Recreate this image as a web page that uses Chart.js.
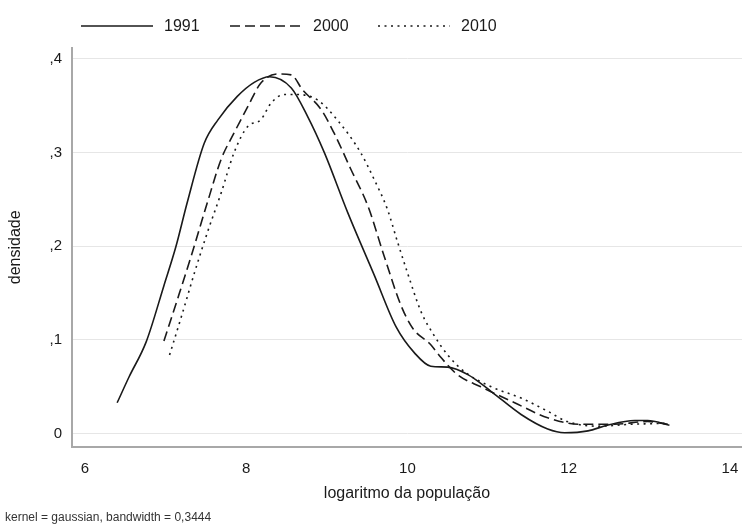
<!DOCTYPE html>
<html>
<head>
<meta charset="utf-8">
<script src="https://cdn.jsdelivr.net/npm/chart.js@4.4.0/dist/chart.umd.min.js"></script>
<style>
  html, body { margin: 0; padding: 0; background: #fff; }
</style>
</head>
<body>
<canvas id="kd" width="742" height="528"></canvas>
<script>
// --- data ---
const seriesNames = ["1991", "2000", "2010"];

const x1991 = [6.40, 6.55, 6.76, 6.98, 7.13, 7.27, 7.48, 7.65, 7.89, 8.10, 8.29, 8.56, 8.76, 8.97, 9.26, 9.59, 9.86, 10.09, 10.29, 10.50, 10.75, 11.04, 11.41, 11.74, 11.95, 12.24, 12.48, 12.82, 12.98, 13.25];
const y1991 = [0.033, 0.061, 0.098, 0.158, 0.200, 0.247, 0.310, 0.335, 0.360, 0.375, 0.381, 0.369, 0.339, 0.300, 0.236, 0.169, 0.114, 0.086, 0.072, 0.071, 0.063, 0.045, 0.0205, 0.005, 0.001, 0.003, 0.009, 0.014, 0.014, 0.009];

const x2000 = [6.98, 7.15, 7.32, 7.52, 7.69, 7.85, 8.02, 8.18, 8.39, 8.56, 8.70, 8.93, 9.09, 9.30, 9.51, 9.71, 9.92, 10.07, 10.29, 10.40, 10.62, 10.91, 11.33, 11.74, 12.15, 12.57, 12.98, 13.23];
const y2000 = [0.099, 0.144, 0.190, 0.247, 0.293, 0.321, 0.349, 0.374, 0.384, 0.383, 0.367, 0.346, 0.321, 0.282, 0.243, 0.190, 0.137, 0.112, 0.095, 0.083, 0.063, 0.050, 0.033, 0.017, 0.010, 0.010, 0.013, 0.010];

const x2010 = [7.05, 7.19, 7.36, 7.52, 7.69, 7.85, 8.02, 8.18, 8.31, 8.47, 8.64, 8.89, 9.13, 9.42, 9.59, 9.75, 9.88, 10.00, 10.17, 10.33, 10.50, 10.71, 11.04, 11.41, 11.74, 11.98, 12.36, 12.77, 13.19];
const y2010 = [0.084, 0.123, 0.172, 0.215, 0.257, 0.300, 0.328, 0.335, 0.353, 0.362, 0.362, 0.356, 0.335, 0.300, 0.271, 0.240, 0.204, 0.172, 0.130, 0.105, 0.084, 0.066, 0.050, 0.038, 0.024, 0.013, 0.008, 0.010, 0.011];

const xTicks = [6, 8, 10, 12, 14];
const yTicks = [0, 0.1, 0.2, 0.3, 0.4];

const xTitle = "logaritmo da população";
const yTitle = "densidade";
const noteText = "kernel = gaussian, bandwidth = 0,3444";

// --- helpers ---
const FONT = "'Liberation Sans', Arial, sans-serif";
const INK = "#1a1a1a";

function toPoints(xs, ys) {
  return xs.map((x, i) => ({ x: x, y: ys[i] }));
}

function yLabel(v) {
  if (Math.abs(v) < 1e-9) return "0";
  return "," + Math.round(v * 10);
}

// legend drawn on the canvas, one line sample + label per dataset
const lineLegend = {
  id: "lineLegend",
  afterDraw(chart) {
    const ctx = chart.ctx;
    const starts = [81, 230, 378];
    const len = 72, gap = 11, cy = 26;
    ctx.save();
    ctx.font = "16px " + FONT;
    ctx.textBaseline = "middle";
    ctx.fillStyle = INK;
    chart.data.datasets.forEach((ds, i) => {
      const x0 = starts[i];
      ctx.beginPath();
      ctx.setLineDash(ds.borderDash || []);
      ctx.lineWidth = ds.borderWidth;
      ctx.strokeStyle = ds.borderColor;
      ctx.moveTo(x0, cy);
      ctx.lineTo(x0 + len, cy);
      ctx.stroke();
      ctx.setLineDash([]);
      ctx.fillText(ds.label, x0 + len + gap, cy + 1);
    });
    ctx.restore();
  }
};

const ctx = document.getElementById("kd").getContext("2d");
const chart = new Chart(ctx, {
  type: "line",
  data: {
    datasets: [
      { label: seriesNames[0], data: toPoints(x1991, y1991), borderColor: INK, borderWidth: 1.6, borderDash: [] },
      { label: seriesNames[1], data: toPoints(x2000, y2000), borderColor: INK, borderWidth: 1.6, borderDash: [10, 5] },
      { label: seriesNames[2], data: toPoints(x2010, y2010), borderColor: INK, borderWidth: 1.6, borderDash: [2, 4.5] }
    ]
  },
  options: {
    responsive: false,
    animation: false,
    devicePixelRatio: 1,
    parsing: false,
    elements: {
      point: { radius: 0, hoverRadius: 0 },
      line: { cubicInterpolationMode: "monotone", fill: false }
    },
    layout: { padding: { top: 48, left: 5, right: 0, bottom: 0 } },
    plugins: {
      legend: { display: false },
      tooltip: { enabled: false },
      subtitle: {
        display: true,
        position: "bottom",
        align: "start",
        text: noteText,
        color: "#333",
        font: { family: FONT, size: 12 },
        padding: { top: 2, bottom: 3 }
      }
    },
    scales: {
      x: {
        type: "linear",
        min: 5.84,
        max: 14.15,
        afterBuildTicks: s => { s.ticks = xTicks.map(v => ({ value: v })); },
        afterFit: s => { s.height = 62; s.paddingLeft = 0; s.paddingRight = 0; },
        grid: { display: false, drawTicks: false },
        border: { display: true, color: "#a8a8a8", width: 2 },
        ticks: { padding: 13, color: INK, maxRotation: 0, autoSkip: false, font: { family: FONT, size: 15 } },
        title: { display: true, text: xTitle, color: INK, font: { family: FONT, size: 16 }, padding: { top: 0, bottom: 5 } }
      },
      y: {
        type: "linear",
        min: -0.0138,
        max: 0.4117,
        afterBuildTicks: s => { s.ticks = yTicks.map(v => ({ value: v })); },
        afterFit: s => { s.width = 67; },
        grid: { color: "#e6e6e6", lineWidth: 1, drawTicks: false },
        border: { display: true, color: "#a8a8a8", width: 2 },
        ticks: { padding: 10, color: INK, callback: yLabel, font: { family: FONT, size: 15 } },
        title: { display: true, text: yTitle, color: INK, font: { family: FONT, size: 16 }, padding: { top: 1, bottom: 0 } }
      }
    }
  },
  plugins: [lineLegend]
});
</script>
</body>
</html>
